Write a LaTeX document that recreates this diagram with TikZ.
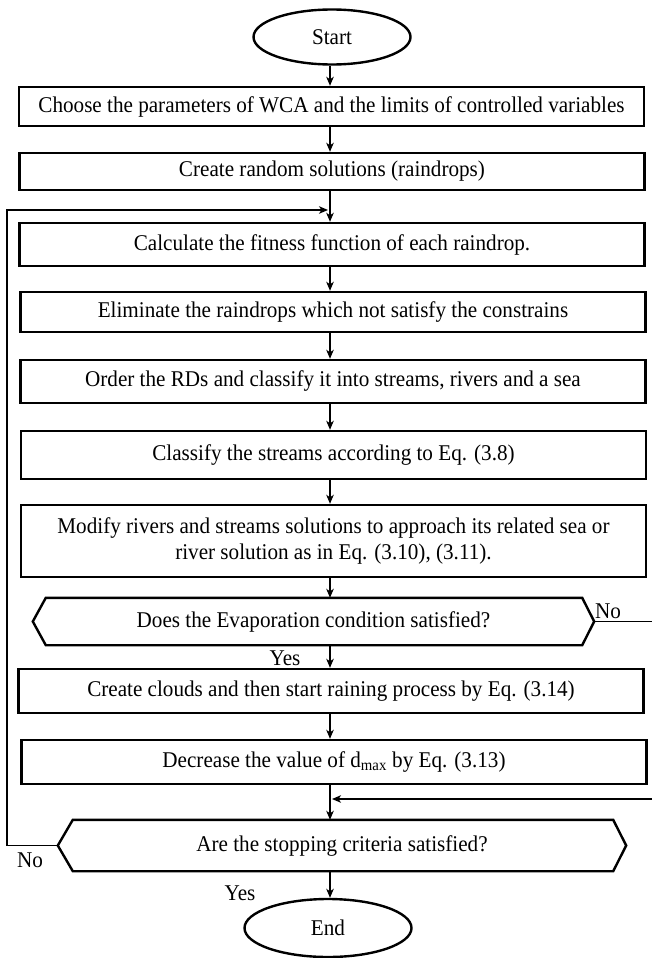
\documentclass[tikz,border=0pt]{standalone}
\usepackage{fontspec}
\setmainfont{Liberation Serif}[FakeStretch=0.94]
\usetikzlibrary{shapes.geometric,arrows.meta}
\begin{document}
\begin{tikzpicture}[x=1pt,y=-1pt,
  every node/.style={font=\fontsize{22.5}{26}\selectfont},
  procbox/.style={draw, line width=2.4pt, minimum width=625, inner sep=0, align=center},
  termnode/.style={draw, ellipse, line width=2.4pt, inner sep=0},
  decnode/.style={inner sep=0, align=center},
  hexline/.style={draw, line width=2.4pt, line join=miter},
  arr/.style={line width=1.4pt, -{Stealth[length=9pt,width=7.5pt,inset=2.5pt]}},
  conn/.style={line width=1.4pt},
  lbl/.style={inner sep=0}]
\useasboundingbox (0,0) rectangle (652,958);
\fill[white] (0,0) rectangle (652,958);

\node[termnode, minimum width=157, minimum height=55] (start) at (332,37) {Start};
\node[procbox, minimum height=39] (b1) at (331.5,106.5) {Choose the parameters of WCA and the limits of controlled variables};
\node[procbox, minimum height=37] (b2) at (332,171.5) {Create random solutions (raindrops)};
\node[procbox, minimum height=43] (b3) at (332,244.5) {Calculate the fitness function of each raindrop.};
\node[procbox, minimum height=40] (b4) at (333,312) {Eliminate the raindrops which not satisfy the constrains};
\node[procbox, minimum height=43] (b5) at (333,381.5) {Order the RDs and classify it into streams, rivers and a sea};
\node[procbox, minimum height=48] (b6) at (333.5,455) {Classify the streams according to Eq. (3.8)};
\node[procbox, minimum height=72] (b7) at (333.5,541) {Modify rivers and streams solutions to approach its related sea or\\river solution as in Eq. (3.10), (3.11).};
\node[decnode, minimum width=561, minimum height=47] (h1) at (313.5,621.5) {Does the Evaporation condition satisfied?};
\node[procbox, minimum height=44] (b8) at (331,691) {Create clouds and then start raining process by Eq. (3.14)};
\node[procbox, minimum height=44] (b9) at (334,762) {Decrease the value of d\textsubscript{max}\ by Eq. (3.13)};
\node[decnode, minimum width=568, minimum height=51] (h2) at (342,845.5) {Are the stopping criteria satisfied?};
\node[termnode, minimum width=167, minimum height=58] (end) at (328,928) {End};

\draw[hexline] (h1.west) -- ([xshift=13]h1.north west) -- ([xshift=-12]h1.north east) -- (h1.east) -- ([xshift=-12]h1.south east) -- ([xshift=13]h1.south west) -- cycle;
\draw[hexline] (h2.west) -- ([xshift=15]h2.north west) -- ([xshift=-13]h2.north east) -- (h2.east) -- ([xshift=-13]h2.south east) -- ([xshift=15]h2.south west) -- cycle;

\coordinate (spine) at (330,0);
\coordinate (redge) at (652,0);
\coordinate (ledge) at (7,210);
\coordinate (rin) at (652,799);

\draw[arr] (start.south -| spine) -- (b1.north -| spine);
\draw[arr] (b1.south -| spine) -- (b2.north -| spine);
\draw[arr] (b2.south -| spine) -- (b3.north -| spine);
\draw[arr] (b3.south -| spine) -- (b4.north -| spine);
\draw[arr] (b4.south -| spine) -- (b5.north -| spine);
\draw[arr] (b5.south -| spine) -- (b6.north -| spine);
\draw[arr] (b6.south -| spine) -- (b7.north -| spine);
\draw[arr] (b7.south -| spine) -- (h1.north -| spine);
\draw[arr] (h1.south -| spine) -- (b8.north -| spine);
\draw[arr] (b8.south -| spine) -- (b9.north -| spine);
\draw[arr] (b9.south -| spine) -- (h2.north -| spine);
\draw[arr] (h2.south -| spine) -- (end.north -| spine);

\draw[conn] (h1.east) -- (h1.east -| redge);
\draw[arr] (rin) -- ([xshift=2]rin -| spine);
\draw[arr] (h2.west) -- (h2.west -| ledge) -- (ledge) -- ([xshift=-2]ledge -| spine);

\node[lbl] (no1) at (608,611) {No};
\node[lbl] (yes1) at (285,658) {Yes};
\node[lbl] (no2) at (30,860) {No};
\node[lbl] (yes2) at (240,893) {Yes};
\end{tikzpicture}
\end{document}
